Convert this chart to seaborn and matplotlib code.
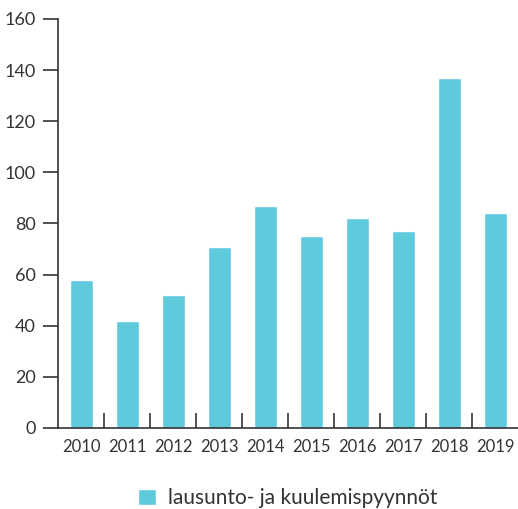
import numpy as np
import pandas as pd
import matplotlib
matplotlib.use("Agg")
import matplotlib.pyplot as plt
import seaborn as sns

years = ["2010", "2011", "2012", "2013", "2014", "2015", "2016", "2017", "2018", "2019"]
requests = [58, 42, 52, 71, 87, 75, 82, 77, 137, 84]
series_label = "lausunto- ja kuulemispyynnöt"
y_ticks = [0, 20, 40, 60, 80, 100, 120, 140, 160]

bar_color = "#5ECADC"
text_color = "#333333"

sns.set_style("white")
plt.rcParams["font.family"] = ["Lato", "DejaVu Sans"]

data = pd.DataFrame({"year": years, "count": requests, "series": series_label})

fig = plt.figure(figsize=(5.18, 5.09), dpi=100)
ax = fig.add_axes([58 / 518, 1 - 428 / 509, 1 - 58 / 518, (428 - 19) / 509])

sns.barplot(data=data, x="year", y="count", hue="series", palette=[bar_color],
            width=0.5, ax=ax, saturation=1, legend=True)

ax.set_xlim(-0.5, len(years) - 0.5)
ax.set_ylim(0, 160)
ax.set_yticks(y_ticks)
ax.set_xlabel("")
ax.set_ylabel("")

for side in ["top", "right"]:
    ax.spines[side].set_visible(False)
for side in ["left", "bottom"]:
    ax.spines[side].set_color(text_color)
    ax.spines[side].set_linewidth(1.2)

ax.tick_params(axis="y", left=True, direction="out", length=11, width=1.2, color=text_color,
               labelsize=13, labelcolor=text_color, pad=5)
ax.tick_params(axis="x", which="major", length=0, labelsize=12, labelcolor=text_color, pad=8)
ax.set_xticks(np.arange(0.5, len(years) - 1), minor=True)
ax.tick_params(axis="x", which="minor", bottom=True, direction="in", length=11, width=1.2,
               color=text_color)
ax.set_axisbelow(False)

handles, labels = ax.get_legend_handles_labels()
ax.legend(handles, labels, loc="center", bbox_to_anchor=(0.5, -0.172), frameon=False,
          fontsize=15, handlelength=0.85, handleheight=0.85, handletextpad=0.6,
          labelcolor=text_color)

fig.savefig("out.png", dpi=100)
